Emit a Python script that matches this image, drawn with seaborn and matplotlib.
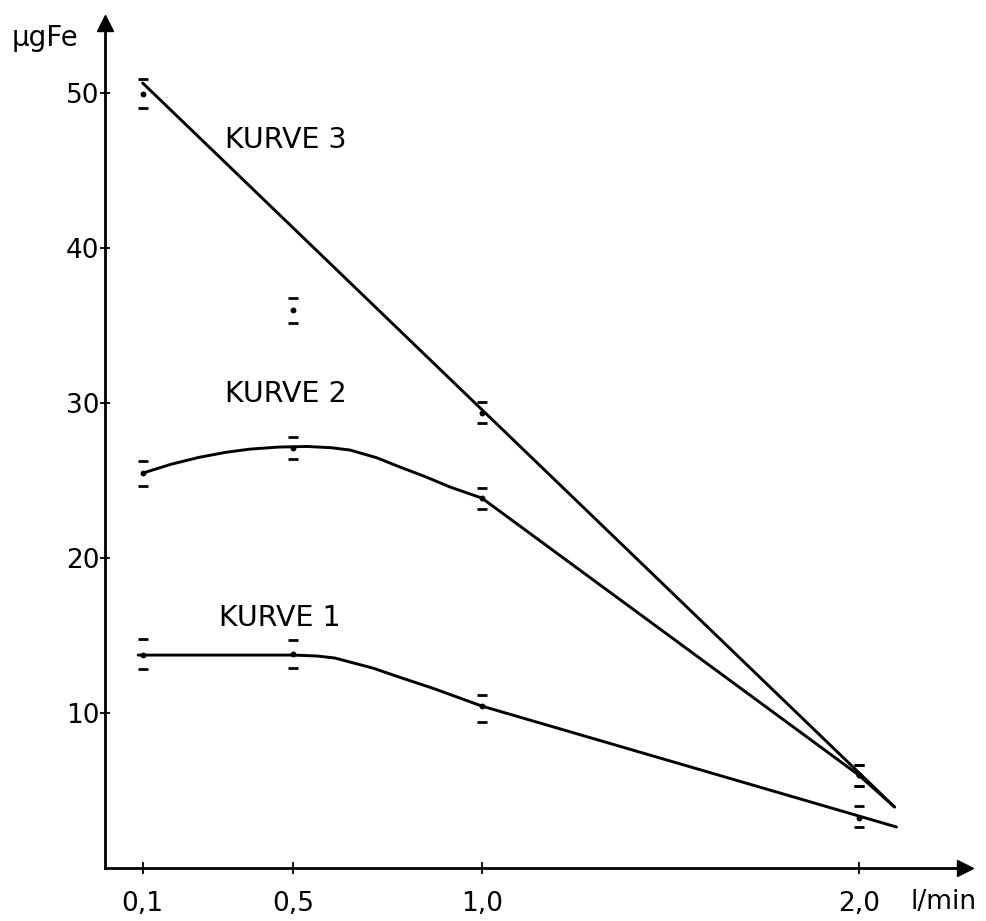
import numpy as np
import pandas as pd
import matplotlib
matplotlib.use("Agg")
import matplotlib.pyplot as plt
import seaborn as sns

# measured points (x in l/min, y in µg Fe): dot, lower and upper mark
x_pts = [0.1, 0.5, 1.0, 2.0]

k1_mid = [13.74, 13.80, 10.45, 3.23]
k1_lo = [12.84, 12.90, 9.42, 2.65]
k1_hi = [14.77, 14.71, 11.16, 4.00]

k2_mid = [25.48, 27.10, 23.87, 6.00]
k2_lo = [24.65, 26.39, 23.16, 5.29]
k2_hi = [26.26, 27.80, 24.52, 6.65]

k3_mid = [49.94, 36.00, 29.35, 6.00]
k3_lo = [49.03, 35.16, 28.71, 5.29]
k3_hi = [50.90, 36.77, 30.06, 6.65]

# drawn curves
k1_line_x = [0.088, 0.5, 0.563, 0.61, 0.65, 0.711, 0.783, 0.87, 1.0, 2.10]
k1_line_y = [13.74, 13.74, 13.68, 13.55, 13.29, 12.90, 12.30, 11.60, 10.45, 2.65]

k2_line_x = [0.1, 0.175, 0.25, 0.32, 0.385, 0.46, 0.536, 0.6, 0.65, 0.72, 0.783, 0.85, 0.916, 1.0, 2.0, 2.095]
k2_line_y = [25.48, 26.05, 26.50, 26.82, 27.03, 27.16, 27.20, 27.12, 26.97, 26.48, 25.87, 25.25, 24.58, 23.87, 6.00, 3.94]

k3_line_x = [0.1, 2.095]
k3_line_y = [50.65, 3.94]

x_ticks = [0.1, 0.5, 1.0, 2.0]
x_ticklabels = ["0,1", "0,5", "1,0", "2,0"]
y_ticks = [10, 20, 30, 40, 50]

curve_names = ["KURVE 1", "KURVE 2", "KURVE 3"]

sns.set_style("ticks")
plt.rcParams["font.family"] = ["DejaVu Sans"]
plt.rcParams["text.color"] = "black"

fig = plt.figure(figsize=(9.86, 9.21), dpi=100)
ax = fig.add_axes([0.1065, 0.0575, 0.8722, 0.918])

lines = pd.concat([
    pd.DataFrame({"x": k1_line_x, "y": k1_line_y, "kurve": curve_names[0]}),
    pd.DataFrame({"x": k2_line_x, "y": k2_line_y, "kurve": curve_names[1]}),
    pd.DataFrame({"x": k3_line_x, "y": k3_line_y, "kurve": curve_names[2]}),
])
sns.lineplot(data=lines, x="x", y="y", units="kurve", estimator=None, sort=False,
             color="black", linewidth=2.1, ax=ax, legend=False)

for mid, lo, hi in [(k1_mid, k1_lo, k1_hi), (k2_mid, k2_lo, k2_hi), (k3_mid, k3_lo, k3_hi)]:
    mid = np.array(mid)
    err = [mid - np.array(lo), np.array(hi) - mid]
    eb = ax.errorbar(x_pts, mid, yerr=err, fmt="o", color="black", ms=3.2,
                     capsize=3.5, capthick=2.0, elinewidth=0)
    for bar in eb[2]:
        bar.set_visible(False)

# curve labels
ax.text(0.318, 46.97, curve_names[2], fontsize=20.5, va="center", ha="left", color="black")
ax.text(0.318, 30.58, curve_names[1], fontsize=20.5, va="center", ha="left", color="black")
ax.text(0.303, 16.13, curve_names[0], fontsize=20.5, va="center", ha="left", color="black")

ax.set_xlim(0, 2.282)
ax.set_ylim(0, 54.55)
ax.set_xticks(x_ticks)
ax.set_xticklabels(x_ticklabels)
ax.set_yticks(y_ticks)
ax.tick_params(axis="x", direction="inout", length=8.5, width=1.3, labelsize=19, pad=12, colors="black")
ax.tick_params(axis="y", direction="inout", length=7, width=1.3, labelsize=19, pad=0.5, colors="black")
ax.set_xlabel("")
ax.set_ylabel("")

for side in ["top", "right"]:
    ax.spines[side].set_visible(False)
for side in ["left", "bottom"]:
    ax.spines[side].set_color("black")
    ax.spines[side].set_linewidth(2.0)

# axis arrows
ax.plot(1, 0, marker=">", color="black", ms=12, transform=ax.transAxes, clip_on=False)
ax.plot(0, 1, marker="^", color="black", ms=12, transform=ax.transAxes, clip_on=False)

fig.text(12 / 986, 1 - 38 / 921, "µgFe", fontsize=20, ha="left", va="center", color="black")
fig.text(944 / 986, 1 - 902 / 921, "l/min", fontsize=19, ha="center", va="center", color="black")

fig.savefig("out.png", dpi=100, facecolor="white")
